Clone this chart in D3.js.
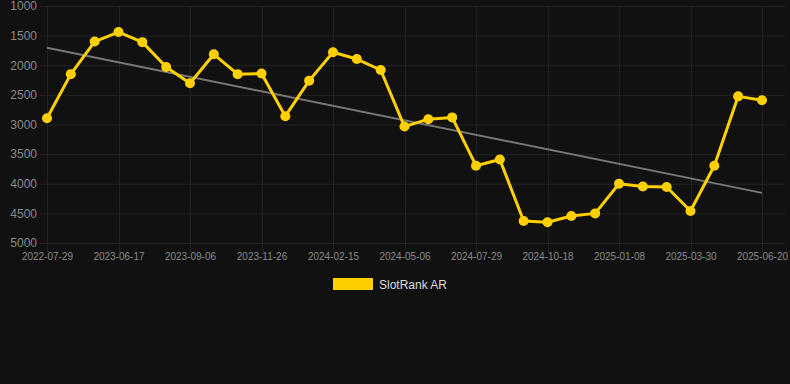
<!DOCTYPE html>
<html><head><meta charset="utf-8">
<script src="https://cdn.jsdelivr.net/npm/d3@7"></script>
<style>
html,body{margin:0;padding:0;background:#111111;}
svg{display:block;font-family:"Liberation Sans",Arial,sans-serif;}
</style></head>
<body><svg id="c" width="790" height="384"></svg>
<script>
const dates = ["2022-07-29","2023-04-23","2023-05-20","2023-06-17","2023-07-14","2023-08-10","2023-09-06","2023-10-03","2023-10-30","2023-11-26","2023-12-23","2024-01-19","2024-02-15","2024-03-13","2024-04-09","2024-05-06","2024-06-02","2024-07-01","2024-07-29","2024-08-25","2024-09-21","2024-10-18","2024-11-14","2024-12-11","2025-01-08","2025-02-04","2025-03-03","2025-03-30","2025-04-26","2025-05-23","2025-06-20"];
const ranks = [2895,2150,1600,1440,1610,2030,2305,1815,2150,2140,2860,2260,1780,1895,2080,3035,2910,2880,3695,3590,4630,4650,4545,4500,4000,4045,4055,4460,3695,2525,2590];
const yTicks = [1000,1500,2000,2500,3000,3500,4000,4500,5000];
const seriesName = "SlotRank AR";

const svg = d3.select("#c");
const W = 790, H = 384;
const m = {left:40, right:5, top:6, bottom:141};
const x = d3.scalePoint().domain(dates).range([47, 762]);
const y = d3.scaleLinear().domain([1000,5000]).range([6, 243]);

const tickDates = dates.filter((d,i)=>i%3===0);

// grid
const g = svg.append("g");
g.selectAll("line.h").data(yTicks).enter().append("line")
 .attr("x1", m.left).attr("x2", W - m.right)
 .attr("y1", d=>y(d)+0.5).attr("y2", d=>y(d)+0.5)
 .attr("stroke", "#222").attr("stroke-width",1);
g.selectAll("line.v").data(tickDates).enter().append("line")
 .attr("x1", d=>Math.round(x(d))+0.5).attr("x2", d=>Math.round(x(d))+0.5)
 .attr("y1", y(1000)).attr("y2", y(5000)+10)
 .attr("stroke", "#222").attr("stroke-width",1);

// y axis
const ya = d3.axisLeft(y).tickValues(yTicks).tickSize(0).tickPadding(0).tickFormat(d3.format("d"));
const yg = svg.append("g").attr("transform","translate(37,0)").call(ya);
yg.select(".domain").remove();
yg.selectAll("text").attr("fill","#8a8a8a").style("font-size","12px");

// x axis
const xa = d3.axisBottom(x).tickValues(tickDates).tickSize(0).tickPadding(0);
const xg = svg.append("g").attr("transform","translate(0,253)").call(xa);
xg.select(".domain").remove();
xg.selectAll("text").attr("fill","#8a8a8a").style("font-size","10px").attr("dy","0.71em");

// trend line (least squares)
const n = ranks.length;
const xs = d3.range(n);
const mx = d3.mean(xs), my = d3.mean(ranks);
const slope = d3.sum(xs, i=>(i-mx)*(ranks[i]-my)) / d3.sum(xs, i=>(i-mx)*(i-mx));
const icpt = my - slope*mx;
svg.append("line")
 .attr("x1", x(dates[0])).attr("y1", y(icpt))
 .attr("x2", x(dates[n-1])).attr("y2", y(icpt + slope*(n-1)))
 .attr("stroke","#777").attr("stroke-width",2);

// series
const color = "#FFD000";
svg.append("path").datum(ranks)
 .attr("fill","none").attr("stroke",color).attr("stroke-width",3).attr("stroke-linejoin","round")
 .attr("d", d3.line().x((d,i)=>x(dates[i])).y(d=>y(d)));
svg.selectAll("circle.p").data(ranks).enter().append("circle")
 .attr("cx",(d,i)=>x(dates[i])).attr("cy",d=>y(d)).attr("r",5).attr("fill",color);

// legend
svg.append("rect").attr("x",333).attr("y",278).attr("width",40).attr("height",12).attr("fill",color);
svg.append("text").attr("x",379).attr("y",288.5).text(seriesName)
 .attr("fill","#dddddd").style("font-size","12px");
</script></body></html>
